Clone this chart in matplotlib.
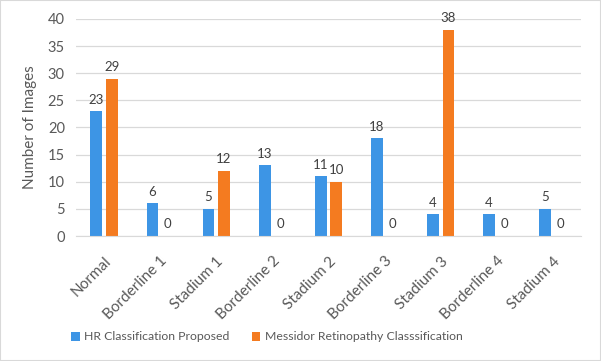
import matplotlib.pyplot as plt
import numpy as np

categories = ["Normal", "Borderline 1", "Stadium 1", "Borderline 2", "Stadium 2",
              "Borderline 3", "Stadium 3", "Borderline 4", "Stadium 4"]
hr_values = [23, 6, 5, 13, 11, 18, 4, 4, 5]
messidor_values = [29, 0, 12, 0, 10, 0, 38, 0, 0]
yticks = [0, 5, 10, 15, 20, 25, 30, 35, 40]

blue = "#3D95E5"
orange = "#F47B20"
txt = "#595959"
plt.rcParams["font.family"] = ["Lato", "DejaVu Sans"]

fig = plt.figure(figsize=(6.01, 3.61), dpi=100)
fig.patches.append(plt.Rectangle((0, 0), 1, 1, transform=fig.transFigure,
                                 fill=False, edgecolor="#D9D9D9", lw=1.5))
ax = fig.add_axes([76 / 601, 125 / 361, 505 / 601, 217 / 361])

x = np.arange(len(categories))
w = 0.21
off = 0.137
b1 = ax.bar(x - off, hr_values, w, color=blue, label="HR Classification Proposed", zorder=2)
b2 = ax.bar(x + off, messidor_values, w, color=orange, label="Messidor Retinopathy Classsification", zorder=2)

for bars in (b1, b2):
    for r in bars:
        h = r.get_height()
        ax.annotate(str(int(h)), (r.get_x() + r.get_width() / 2, h), xytext=(0, 4),
                    textcoords="offset points", ha="center", va="bottom",
                    fontsize=9.5, color="#404040")

ax.set_xlim(-0.5, len(categories) - 0.5)
ax.set_ylim(0, 40)
ax.set_yticks(yticks)
ax.yaxis.grid(True, color="#D9D9D9", lw=0.9, zorder=0)
for s in ax.spines.values():
    s.set_visible(False)
ax.spines["bottom"].set_visible(True)
ax.spines["bottom"].set_color("#D9D9D9")
ax.tick_params(length=0, colors=txt, labelsize=10.5)
ax.tick_params(axis="y", pad=8)
ax.set_xticks(x)
ax.set_xticklabels(categories, rotation=45, ha="right", rotation_mode="anchor", fontsize=11)
ax.tick_params(axis="x", pad=13)
ax.set_ylabel("Number of Images", color=txt, fontsize=11, labelpad=8)

fig.legend(loc="center left", bbox_to_anchor=(60 / 601, 24 / 361), ncol=2, frameon=False,
           fontsize=8.8, labelcolor=txt, handlelength=0.7, handleheight=0.7,
           handletextpad=0.4, columnspacing=1.8)

fig.savefig("out.png", dpi=100)
